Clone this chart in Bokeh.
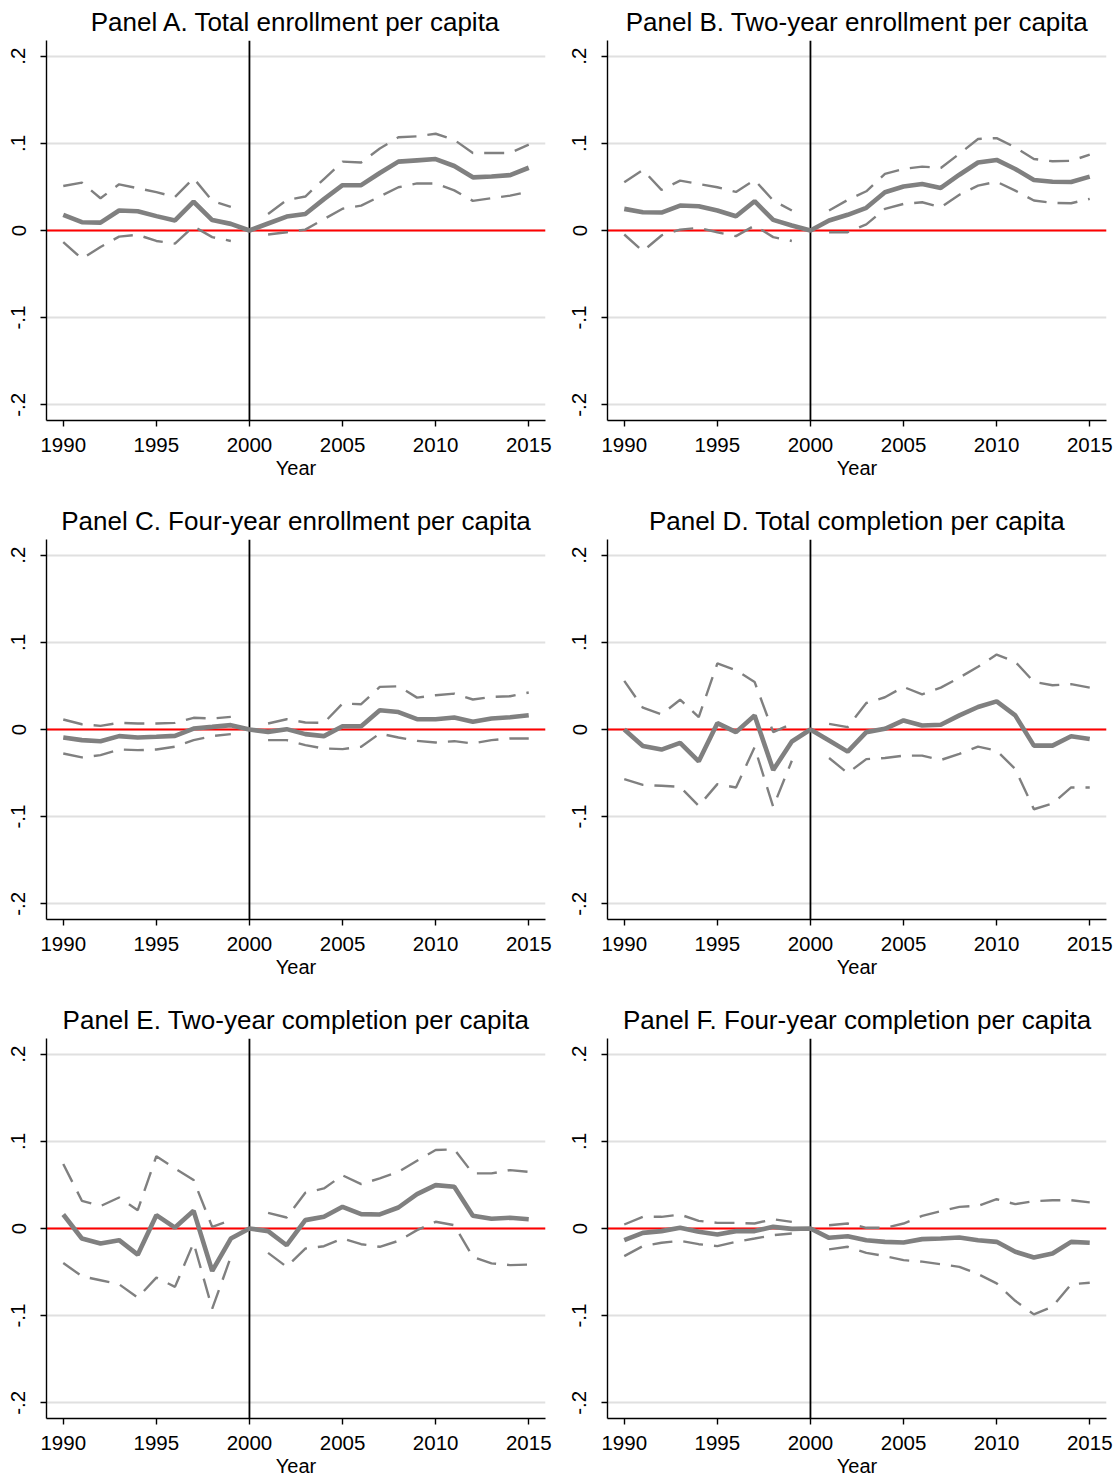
from bokeh.plotting import figure
from bokeh.models import Span, Range1d, FixedTicker
from bokeh.layouts import column, row
from bokeh.embed import file_html
from bokeh.resources import INLINE

nan = float("nan")

years = list(range(1990, 2016))
x_ticks = [1990, 1995, 2000, 2005, 2010, 2015]
y_ticks = [-0.2, -0.1, 0.0, 0.1, 0.2]
y_tick_labels = ["-.2", "-.1", "0", ".1", ".2"]

titles = [
    "Panel A. Total enrollment per capita",
    "Panel B. Two-year enrollment per capita",
    "Panel C. Four-year enrollment per capita",
    "Panel D. Total completion per capita",
    "Panel E. Two-year completion per capita",
    "Panel F. Four-year completion per capita",
]

# Panel A
A_est = [0.018, 0.0095, 0.009, 0.023, 0.022, 0.0165, 0.0115, 0.033, 0.012, 0.0076, 0.0,
         0.008, 0.016, 0.019, 0.036, 0.052, 0.052, 0.066, 0.079, 0.0805, 0.082, 0.074, 0.061, 0.062, 0.0635, 0.072]
A_hi = [0.051, 0.055, 0.037, 0.053, 0.0485, 0.044, 0.0385, 0.060, 0.034, 0.027, nan,
        0.019, 0.035, 0.039, 0.059, 0.079, 0.078, 0.094, 0.107, 0.108, 0.111, 0.104, 0.089, 0.089, 0.089, 0.0985]
A_lo = [-0.0134, -0.0324, -0.019, -0.007, -0.005, -0.012, -0.015, 0.0046, -0.0076, -0.012, nan,
        -0.0046, -0.002, 0.001, 0.013, 0.025, 0.0286, 0.039, 0.0496, 0.054, 0.054, 0.046, 0.034, 0.037, 0.040, 0.0447]

# Panel B
B_est = [0.0248, 0.021, 0.0206, 0.0286, 0.0279, 0.0229, 0.0164, 0.0336, 0.0122, 0.0057, 0.0,
         0.0115, 0.018, 0.026, 0.0439, 0.0504, 0.0534, 0.0489, 0.064, 0.078, 0.081, 0.0706, 0.058, 0.056, 0.0557, 0.0618]
B_hi = [0.0553, 0.0695, 0.0466, 0.0573, 0.0534, 0.0496, 0.0443, 0.058, 0.0344, 0.023, nan,
        0.023, 0.035, 0.045, 0.065, 0.0706, 0.0733, 0.0718, 0.088, 0.105, 0.106, 0.0954, 0.082, 0.0794, 0.080, 0.087]
B_lo = [-0.0046, -0.0237, -0.0057, 0.001, 0.003, -0.002, -0.0065, 0.0057, -0.0076, -0.012, nan,
        -0.002, -0.002, 0.007, 0.0248, 0.0305, 0.0324, 0.0267, 0.041, 0.0515, 0.056, 0.0458, 0.0344, 0.0317, 0.0313, 0.0363]

# Panel C
C_est = [-0.0092, -0.0122, -0.0134, -0.0076, -0.0092, -0.0084, -0.0073, 0.0011, 0.003, 0.005, 0.0,
         -0.0027, 0.0004, -0.0053, -0.0076, 0.0038, 0.0038, 0.022, 0.020, 0.0118, 0.0118, 0.0137, 0.0088, 0.0126, 0.014, 0.0164]
C_hi = [0.0115, 0.006, 0.0042, 0.0076, 0.0069, 0.0069, 0.0076, 0.0134, 0.0126, 0.0145, nan,
        0.0069, 0.0118, 0.008, 0.0076, 0.0298, 0.029, 0.0489, 0.0496, 0.0366, 0.0393, 0.0412, 0.0344, 0.0374, 0.0382, 0.0424]
C_lo = [-0.0275, -0.032, -0.0294, -0.0229, -0.0237, -0.0229, -0.0198, -0.0122, -0.0076, -0.0053, nan,
        -0.0122, -0.0122, -0.018, -0.0218, -0.0225, -0.0198, -0.0046, -0.0092, -0.013, -0.0149, -0.0134, -0.016, -0.0122, -0.0103, -0.0103]

# Panel D
D_est = [0.0, -0.019, -0.023, -0.0154, -0.0365, 0.0073, -0.003, 0.016, -0.0465, -0.0138, 0.0,
         -0.0127, -0.0254, -0.003, 0.0008, 0.0104, 0.0046, 0.0054, 0.0162, 0.0258, 0.0323, 0.0162, -0.0185, -0.0185, -0.0077, -0.0108]
D_hi = [0.0558, 0.025, 0.0173, 0.0342, 0.0142, 0.0758, 0.068, 0.0546, -0.003, 0.0065, nan,
        0.0065, 0.0027, 0.0304, 0.037, 0.0488, 0.0404, 0.048, 0.0596, 0.072, 0.086, 0.0777, 0.0546, 0.0508, 0.052, 0.048]
D_lo = [-0.057, -0.0635, -0.0646, -0.0658, -0.0877, -0.0627, -0.0665, -0.0204, -0.0888, -0.0358, nan,
        -0.0327, -0.050, -0.034, -0.0327, -0.030, -0.030, -0.035, -0.028, -0.0196, -0.0242, -0.0454, -0.0915, -0.085, -0.0665, -0.0665]

# Panel E
E_est = [0.0161, -0.0115, -0.0172, -0.0134, -0.030, 0.0153, 0.0011, 0.0203, -0.0487, -0.0115, 0.0,
         -0.003, -0.0192, 0.0096, 0.0134, 0.0249, 0.0165, 0.0161, 0.0241, 0.0395, 0.0498, 0.0479, 0.0146, 0.0111, 0.0123, 0.0107]
E_hi = [0.074, 0.0318, 0.0257, 0.0356, 0.021, 0.083, 0.069, 0.0556, 0.0019, 0.0096, nan,
        0.018, 0.0126, 0.041, 0.046, 0.061, 0.051, 0.0575, 0.065, 0.0778, 0.090, 0.0908, 0.0632, 0.0632, 0.067, 0.065]
E_lo = [-0.0395, -0.0548, -0.0594, -0.064, -0.0793, -0.0563, -0.067, -0.0165, -0.092, -0.0326, nan,
        -0.028, -0.044, -0.023, -0.0203, -0.0115, -0.018, -0.021, -0.0142, -0.0019, 0.0077, 0.0038, -0.0326, -0.040, -0.042, -0.0414]

# Panel F
F_est = [-0.0134, -0.005, -0.003, 0.0008, -0.0038, -0.0069, -0.003, -0.003, 0.0019, -0.0004, 0.0,
         -0.0107, -0.0088, -0.0134, -0.0153, -0.016, -0.0122, -0.0115, -0.0103, -0.0134, -0.0153, -0.0267, -0.0332, -0.0286, -0.0153, -0.0164]
F_hi = [0.0046, 0.0134, 0.0134, 0.016, 0.0088, 0.0065, 0.0065, 0.0057, 0.0107, 0.0076, nan,
        0.0038, 0.0057, 0.0008, 0.0008, 0.0057, 0.0145, 0.020, 0.0248, 0.026, 0.0336, 0.0279, 0.0313, 0.0324, 0.0324, 0.030]
F_lo = [-0.0317, -0.0202, -0.0164, -0.0141, -0.018, -0.0202, -0.0153, -0.0115, -0.0076, -0.0057, nan,
        -0.024, -0.021, -0.0279, -0.0317, -0.0363, -0.038, -0.041, -0.044, -0.0523, -0.063, -0.083, -0.0985, -0.0897, -0.064, -0.0622]

panels = [
    (titles[0], A_est, A_lo, A_hi),
    (titles[1], B_est, B_lo, B_hi),
    (titles[2], C_est, C_lo, C_hi),
    (titles[3], D_est, D_lo, D_hi),
    (titles[4], E_est, E_lo, E_hi),
    (titles[5], F_est, F_lo, F_hi),
]

FONT = "Liberation Sans"
GRAY = "#808080"


def make_panel(title, est, lo, hi, col, last_row):
    p = figure(
        frame_width=499, frame_height=380,
        output_backend="svg", toolbar_location=None,
        x_range=Range1d(1989.1, 2015.9), y_range=Range1d(-0.218, 0.218),
        min_border_left=46, min_border_right=(16 if col == 0 else 13),
        min_border_top=40, min_border_bottom=(59 if last_row else 79),
    )
    p.outline_line_color = None
    p.background_fill_color = "white"
    p.border_fill_color = "white"

    p.title.text = title
    p.title.text_font = FONT
    p.title.text_font_size = "26px"
    p.title.text_font_style = "normal"
    p.title.text_color = "black"
    p.title.align = "center"
    p.title.standoff = 8
    p.title.offset = 0

    p.xgrid.visible = False
    p.ygrid.ticker = FixedTicker(ticks=y_ticks)
    p.ygrid.grid_line_color = "#e0e0e0"
    p.ygrid.grid_line_width = 2

    p.xaxis.ticker = FixedTicker(ticks=x_ticks)
    p.yaxis.ticker = FixedTicker(ticks=y_ticks)
    p.yaxis.major_label_overrides = {t: s for t, s in zip(y_ticks, y_tick_labels)}
    p.yaxis.major_label_orientation = "parallel"

    for ax in (p.xaxis[0], p.yaxis[0]):
        ax.axis_line_color = "black"
        ax.axis_line_width = 1.4
        ax.major_tick_line_color = "black"
        ax.major_tick_line_width = 1.4
        ax.major_tick_out = 6
        ax.major_tick_in = 0
        ax.minor_tick_line_color = None
        ax.major_label_text_font = FONT
        ax.major_label_text_font_size = "20.5px"
        ax.major_label_text_color = "black"

    p.yaxis.major_label_standoff = 15
    p.xaxis.major_label_standoff = 11
    p.xaxis.axis_label = "Year"
    p.xaxis.axis_label_text_font = FONT
    p.xaxis.axis_label_text_font_size = "20px"
    p.xaxis.axis_label_text_font_style = "normal"
    p.xaxis.axis_label_text_color = "black"
    p.xaxis.axis_label_standoff = 2

    p.add_layout(Span(location=0, dimension="width", line_color="#ff0000",
                      line_width=2, level="underlay"))
    p.add_layout(Span(location=2000, dimension="height", line_color="black",
                      line_width=1.8, level="underlay"))

    p.line(years, hi, line_color=GRAY, line_width=2.4, line_dash="20 11")
    p.line(years, lo, line_color=GRAY, line_width=2.4, line_dash="20 11")
    p.line(years, est, line_color=GRAY, line_width=4.6)
    return p


figs = []
for i, (t, e, l, h) in enumerate(panels):
    figs.append(make_panel(t, e, l, h, i % 2, i >= 4))

layout = column(
    row(figs[0], figs[1]),
    row(figs[2], figs[3]),
    row(figs[4], figs[5]),
)

open("out.html", "w").write(file_html(layout, INLINE))
